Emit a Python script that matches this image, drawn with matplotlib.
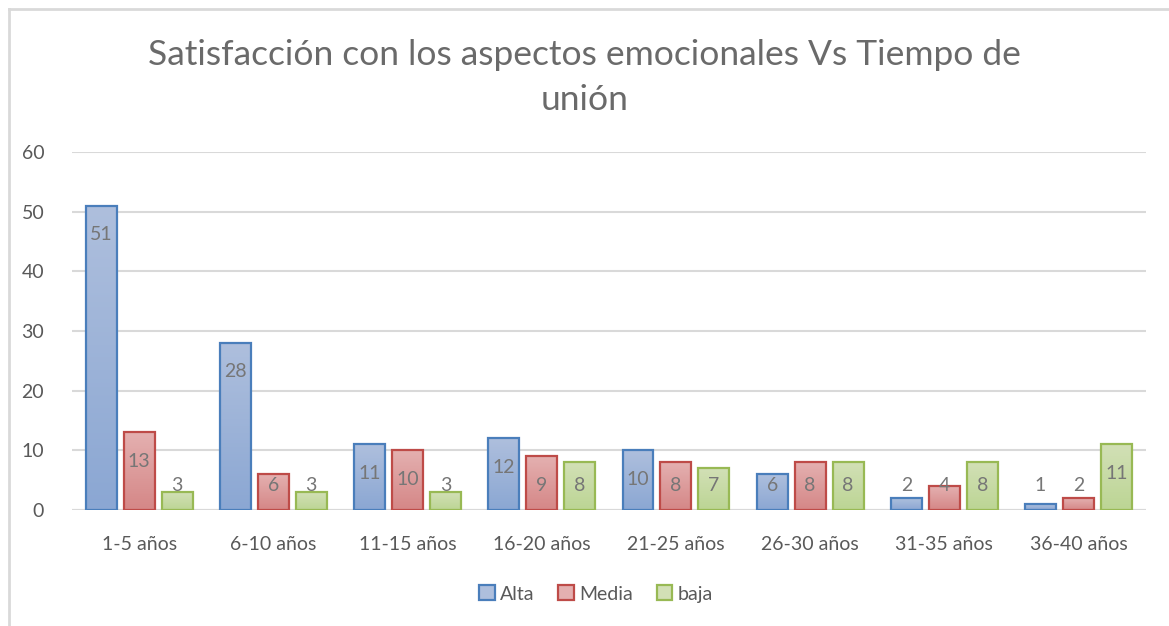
import matplotlib.pyplot as plt
import numpy as np
from matplotlib.lines import Line2D
from matplotlib.patches import Patch

plt.rcParams['font.family'] = ['Lato', 'DejaVu Sans']

categories = ["1-5 años", "6-10 años", "11-15 años", "16-20 años",
              "21-25 años", "26-30 años", "31-35 años", "36-40 años"]
alta = [51, 28, 11, 12, 10, 6, 2, 1]
media = [13, 6, 10, 9, 8, 8, 4, 2]
baja = [3, 3, 3, 8, 7, 8, 8, 11]
series_names = ["Alta", "Media", "baja"]

edges = ["#4a7ebb", "#be4b48", "#98b954"]
tops = ["#aebfdd", "#e4b0b0", "#d2e0b6"]
bottoms = ["#8ba7d3", "#d58787", "#bcd594"]
text_col = "#595959"

fig = plt.figure(figsize=(11.69, 6.26), dpi=100)
ax = fig.add_axes([0.0616, 0.1853, 0.9184, 0.5719])

x = np.arange(len(categories))
width = 0.23
step = 0.283

for k, vals in enumerate([alta, media, baja]):
    off = (k - 1) * step
    c_top = np.array(plt.matplotlib.colors.to_rgb(tops[k]))
    c_bot = np.array(plt.matplotlib.colors.to_rgb(bottoms[k]))
    for i, v in enumerate(vals):
        x0 = x[i] + off - width / 2
        t = np.linspace(0, 1, 64)[:, None]
        grad = (c_top * (1 - t) + c_bot * t)[:, None, :]
        ax.imshow(grad, extent=[x0, x0 + width, 0, v], aspect='auto',
                  origin='upper', zorder=2, interpolation='bilinear')
        ax.bar(x[i] + off, v, width, facecolor='none', edgecolor=edges[k],
               linewidth=1.6, zorder=3)
        ax.text(x[i] + off, max(v - 4.86, 4.05), str(v), ha='center',
                va='center', fontsize=14, color="#767676", zorder=4)

ax.set_xlim(-0.5, len(categories) - 0.5)
ax.set_ylim(0, 60)
ax.set_yticks(range(0, 61, 10))
ax.set_xticks(x)
ax.set_xticklabels(categories)
ax.tick_params(axis='both', length=0, labelsize=14, labelcolor=text_col)
ax.tick_params(axis='y', pad=20)
ax.tick_params(axis='x', pad=19)
ax.grid(axis='y', color='#d9d9d9', linewidth=1.5, zorder=0)
ax.set_axisbelow(True)
for s in ax.spines.values():
    s.set_visible(False)
ax.axhline(0, color='#d9d9d9', linewidth=1.5, zorder=1)

fig.text(0.5, 0.876, "Satisfacción con los aspectos emocionales Vs Tiempo de\nunión",
         ha='center', va='center', fontsize=25.5, color="#6a6a6a", linespacing=1.5)

handles = [Patch(facecolor=tops[k], edgecolor=edges[k], linewidth=1.6)
           for k in range(3)]
fig.legend(handles, series_names, loc='center', bbox_to_anchor=(0.51, 0.051),
           ncol=3, frameon=False, fontsize=14, labelcolor=text_col,
           handlelength=0.8, handleheight=0.8, handletextpad=0.3,
           columnspacing=1.2)

fig.add_artist(Line2D([0.0077, 0.0077], [0, 0.986], color='#d9d9d9', linewidth=2,
                      transform=fig.transFigure))
fig.add_artist(Line2D([0.0077, 1], [0.986, 0.986], color='#d9d9d9', linewidth=2,
                      transform=fig.transFigure))

fig.savefig("out.png", dpi=100)
